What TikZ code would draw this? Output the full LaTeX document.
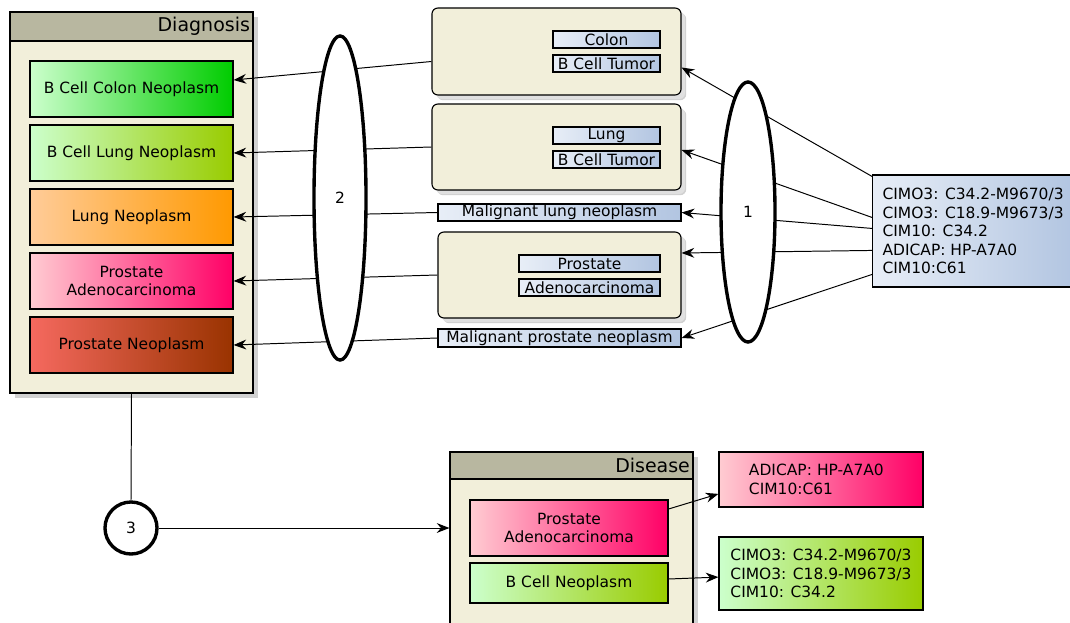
\documentclass[tikz,border=0pt]{standalone}
\usepackage{fontspec}
\setmainfont{DejaVu Sans}
\usetikzlibrary{shapes.geometric,shadows,arrows.meta}
\definecolor{frameback}{RGB}{242,239,218}
\definecolor{framehead}{RGB}{184,183,160}
\definecolor{codelight}{RGB}{232,238,247}
\definecolor{codedark}{RGB}{178,197,225}
\definecolor{greenlight}{RGB}{204,255,204}
\definecolor{greendark}{RGB}{0,204,0}
\definecolor{limedark}{RGB}{153,204,0}
\definecolor{orangelight}{RGB}{255,204,153}
\definecolor{orangedark}{RGB}{255,153,0}
\definecolor{pinklight}{RGB}{255,204,210}
\definecolor{pinkdark}{RGB}{255,0,102}
\definecolor{redlight}{RGB}{245,105,95}
\definecolor{reddark}{RGB}{153,51,0}
\begin{document}
\begin{tikzpicture}[x=0.025cm,y=-0.025cm,>={Stealth[length=9pt,width=7pt,inset=3pt]}]
    \useasboundingbox (0,0) rectangle (1070,623);
    \tikzstyle{every node}=[font=\fontsize{11}{13.2}\selectfont]
    \tikzstyle{frame}=[draw,line width=0.8pt,fill=frameback,drop shadow={shadow xshift=0.13cm,shadow yshift=-0.13cm,fill=black!18,opacity=1}]
    \tikzstyle{head}=[draw,line width=0.8pt,fill=framehead,inner sep=0pt]
    \tikzstyle{title}=[font=\fontsize{13.5}{16}\selectfont,inner sep=1pt]
    \tikzstyle{term}=[draw,line width=0.8pt,minimum width=5.075cm,minimum height=1.4cm,align=center]
    \tikzstyle{source}=[frame,rounded corners=0.15cm,minimum width=6.225cm,drop shadow={shadow xshift=0.1cm,shadow yshift=-0.1cm,fill=black!12,opacity=1}]
    \tikzstyle{label}=[draw,line width=0.8pt,left color=codelight,right color=codedark,inner sep=0.5pt,minimum height=0.425cm]
    \tikzstyle{group}=[draw,fill=white,line width=2.4pt,ellipse,minimum width=1.3cm]
    \tikzstyle{link}=[line width=0.7pt]

    \node[frame,minimum width=6.075cm,minimum height=9.525cm] (diag) at (131.5,202.5) {};
    \node[head,anchor=north west,minimum width=6.075cm,minimum height=0.725cm] (diaghead) at (diag.north west) {};
    \node[title,anchor=east] (diagtitle) at ([xshift=-0.05cm]diaghead.east) {Diagnosis};
    \node[term,left color=greenlight,right color=greendark]   (bcolon)  at (131.5,89)  {B Cell Colon Neoplasm};
    \node[term,left color=greenlight,right color=limedark]    (blung)   at (131.5,153) {B Cell Lung Neoplasm};
    \node[term,left color=orangelight,right color=orangedark] (lung)    at (131.5,217) {Lung Neoplasm};
    \node[term,left color=pinklight,right color=pinkdark]     (padeno)  at (131.5,281) {Prostate\\Adenocarcinoma};
    \node[term,left color=redlight,right color=reddark]       (pneo)    at (131.5,345) {Prostate Neoplasm};

    \node[source,minimum height=2.175cm] (colonsrc) at (556.5,51.5) {};
    \node[label,minimum width=2.675cm] (colonorg) at (606.5,39.5) {Colon};
    \node[label,minimum width=2.675cm] (colontum) at (606.5,63.5) {B Cell Tumor};
    \node[source,minimum height=2.15cm] (lungsrc) at (556.5,147) {};
    \node[label,minimum width=2.675cm] (lungorg) at (606.5,135.5) {Lung};
    \node[label,minimum width=2.675cm] (lungtum) at (606.5,159.5) {B Cell Tumor};
    \node[label,minimum width=6.075cm] (mlung) at (559.5,212.5) {Malignant lung neoplasm};
    \node[source,minimum width=6.075cm,minimum height=2.15cm] (prossrc) at (559.5,275) {};
    \node[label,minimum width=3.525cm] (prosorg) at (589.5,263.5) {Prostate};
    \node[label,minimum width=3.525cm] (prostum) at (589.5,287.5) {Adenocarcinoma};
    \node[label,minimum width=6.075cm,minimum height=0.45cm] (mpros) at (559.5,338) {Malignant prostate neoplasm};

    \node[draw,line width=0.8pt,left color=codelight,right color=codedark,anchor=west,align=left,inner xsep=0.25cm,minimum height=2.8cm] (codes) at (872,231) {CIMO3: C34.2-M9670/3\\CIMO3: C18.9-M9673/3\\CIM10: C34.2\\ADICAP: HP-A7A0\\CIM10:C61};

    \node[frame,minimum width=6.075cm,minimum height=4.7cm] (disease) at (571.5,546) {};
    \node[head,anchor=north west,minimum width=6.075cm,minimum height=0.675cm] (diseasehead) at (disease.north west) {};
    \node[title,anchor=east] (diseasetitle) at ([xshift=-0.05cm]diseasehead.east) {Disease};
    \node[term,minimum width=4.95cm,left color=pinklight,right color=pinkdark] (dpadeno) at (569,528) {Prostate\\Adenocarcinoma};
    \node[term,minimum width=4.95cm,minimum height=1cm,left color=greenlight,right color=limedark] (dbcell) at (569,583) {B Cell Neoplasm};
    \node[term,minimum width=5.1cm,minimum height=1.375cm,text width=3.6cm,align=left,left color=pinklight,right color=pinkdark] (adicap) at (821,479.5) {ADICAP: HP-A7A0\\CIM10:C61};
    \node[term,minimum width=5.1cm,minimum height=1.825cm,align=left,left color=greenlight,right color=limedark] (cimo) at (821,573.5) {CIMO3: C34.2-M9670/3\\CIMO3: C18.9-M9673/3\\CIM10: C34.2};

    \draw[link,->] ([yshift=-0.25cm]colonsrc.west) -- ([yshift=0.225cm]bcolon.east);
    \draw[link,->] (lungsrc.west) -- (blung.east);
    \draw[link,->] (mlung.west) -- (lung.east);
    \draw[link,->] (prossrc.west) -- (padeno.east);
    \draw[link,->] (mpros.west) -- (pneo.east);

    \draw[link,->] ([yshift=-0.05cm]codes.north west) -- ([yshift=-0.4cm]colonsrc.east);
    \draw[link,->] ([yshift=-1.075cm]codes.north west) -- ([yshift=-0.075cm]lungsrc.east);
    \draw[link,->] ([yshift=-1.35cm]codes.north west) -- (mlung.east);
    \draw[link,->] ([yshift=-1.9cm]codes.north west) -- ([yshift=0.55cm]prossrc.east);
    \draw[link,->] ([yshift=-2.5cm]codes.north west) -- (mpros.east);

    \node[group,minimum height=8.1cm] (grouptwo) at (340,198) {2};
    \node[group,minimum width=1.35cm,minimum height=6.5cm] (groupone) at (748,212) {1};
    \node[draw,fill=white,line width=2.4pt,circle,minimum size=1.3cm] (groupthree) at (131,528) {3};

    \draw[link] (diag.south) -- (groupthree.north);
    \draw[link,->] (groupthree.east) -- (groupthree.east -| disease.west);
    \draw[link,->] ([yshift=0.475cm]dpadeno.east) -- ([yshift=-0.36cm]adicap.west);
    \draw[link,->] ([yshift=0.1cm]dbcell.east) -- ([yshift=-0.09cm]cimo.west);
\end{tikzpicture}
\end{document}
